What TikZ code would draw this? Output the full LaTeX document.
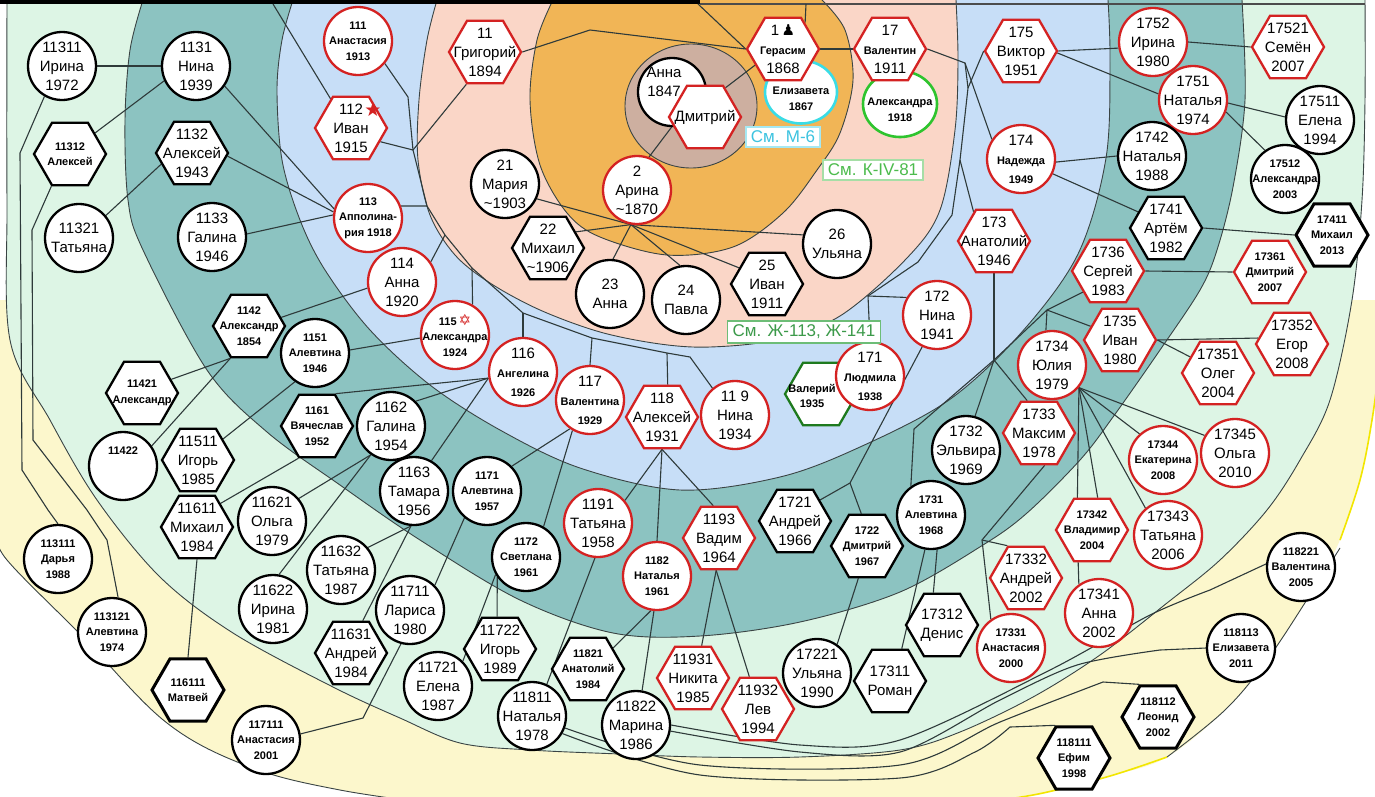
\documentclass[tikz,border=0pt]{standalone}
\usepackage{fontspec}
\setmainfont{Liberation Sans}
\newfontfamily\sym{DejaVu Sans}
\usetikzlibrary{shapes.geometric}
\pgfdeclarelayer{bg}
\pgfdeclarelayer{conn}
\pgfsetlayers{bg,conn,main}
\definecolor{yellowbg}{HTML}{FCF7CC}
\definecolor{greenbg}{HTML}{DDF5E5}
\definecolor{tealbg}{HTML}{8CC3C1}
\definecolor{bluebg}{HTML}{C7DEF7}
\definecolor{peachbg}{HTML}{FAD6C7}
\definecolor{orangebg}{HTML}{F1B556}
\definecolor{brownbg}{HTML}{CDAFA0}
\definecolor{redN}{HTML}{D42222}
\definecolor{cyanN}{HTML}{3ADCE6}
\definecolor{greenN}{HTML}{2EC42E}
\definecolor{dgreenN}{HTML}{1E7A1E}
\definecolor{lineC}{HTML}{2E3A3A}
\definecolor{bdC}{HTML}{3A4444}
\definecolor{lcyan}{HTML}{3CC3E0}
\definecolor{lcyanB}{HTML}{A6E8F2}
\definecolor{lgreen}{HTML}{4CBB4C}
\definecolor{lgreenB}{HTML}{A6DEA6}
\definecolor{lgreenC}{HTML}{3C9A4A}
\definecolor{lgreenCB}{HTML}{6DBD77}
\definecolor{yline}{HTML}{F2E600}
\newcommand\bigf{\fontsize{15}{19}\selectfont}
\newcommand\smf{\fontsize{11}{15.5}\selectfont\bfseries}
\newcommand\sn[1]{{\smf #1}}
\newcommand\pnode[5][tx]{\node[#3] (#2) at (#4) {};\node[#1] (#2t) at (#2) {#5};}
\begin{document}
\begin{tikzpicture}[x=1pt,y=-1pt,
  pc/.style={circle, fill=white, draw=black, line width=2.3pt, minimum size=68pt, inner sep=0pt},
  pcr/.style={pc, draw=redN},
  ph/.style={regular polygon, regular polygon sides=6, fill=white, draw=black, line width=2.3pt, minimum size=72pt, inner sep=0pt},
  phr/.style={ph, draw=redN},
  tx/.style={align=center, inner sep=0pt, font=\bigf},
  txs/.style={align=center, inner sep=0pt, font=\smf},
  ln/.style={draw=lineC, line width=1.1pt},
  bd/.style={draw=bdC, line width=0.9pt},
  lbl/.style={draw, fill=white, line width=1.3pt, inner xsep=5pt, inner ysep=4pt, font=\fontsize{17}{19}\selectfont}]
\useasboundingbox (0,0) rectangle (1375,796);

% ---------------- background regions
\begin{pgfonlayer}{bg}
\fill[white] (0,0) rectangle (1375,796);
\fill[yellowbg] (-10,300) -- (-10,530) -- plot[smooth,tension=.6] coordinates {(-2,535) (7,560) (83,637) (167,723) (250,767) (340,790) (450,806)} -- (950,806) -- plot[smooth,tension=.6] coordinates {(1043,793) (1110,776) (1167,757) (1225,710) (1267,660) (1310,595) (1340,540) (1360,480) (1372,420) (1385,330)} -- (1385,300) -- cycle;
\draw[bd] plot[smooth,tension=.6] coordinates {(-2,535) (7,560) (83,637) (167,723) (250,767) (340,790) (450,806)};
\draw[bd] plot[smooth,tension=.6] coordinates {(1167,757) (1225,710) (1267,660) (1310,595) (1340,548)};
\draw[yline, line width=1.6pt] plot[smooth,tension=.6] coordinates {(1000,800) (1043,793) (1110,776) (1167,757)};
\draw[yline, line width=1.6pt] plot[smooth,tension=.6] coordinates {(1340,540) (1360,480) (1372,420) (1380,360)};
\filldraw[fill=greenbg, bd] (7,-10) -- plot[smooth,tension=.55] coordinates {(7,0) (7,200) (10,340) (50,420) (97,500) (160,577) (233,633) (333,687) (400,718) (460,743) (530,750) (620,754) (700,757) (800,757) (900,750) (960,732) (1033,697) (1100,655) (1167,603) (1220,560) (1267,510) (1300,460) (1330,400) (1352,300) (1362,200) (1365,100) (1365,0)} -- (1365,-10) -- cycle;
\filldraw[fill=tealbg, bd] (143,-10) -- plot[smooth,tension=.55] coordinates {(143,0) (130,50) (125,120) (128,200) (143,250) (207,370) (267,432) (340,485) (420,540) (520,600) (613,633) (700,636) (800,622) (900,592) (983,545) (1027,513) (1080,460) (1113,417) (1160,350) (1200,290) (1217,250) (1233,187) (1245,100) (1242,0)} -- (1242,-10) -- cycle;
\filldraw[fill=bluebg, bd] (293,-10) -- plot[smooth,tension=.55] coordinates {(293,0) (282,40) (277,90) (282,160) (300,220) (325,270) (370,330) (430,385) (500,430) (580,468) (680,490) (780,477) (860,447) (949,400) (1021,333) (1078,254) (1106,158) (1110,60) (1108,0)} -- (1108,-10) -- cycle;
\filldraw[fill=peachbg, bd] (437,-10) -- plot[smooth,tension=.55] coordinates {(437,0) (427,40) (419,100) (418,160) (430,215) (455,255) (490,283) (540,310) (600,332) (660,344) (710,347) (775,340) (840,316) (907,258) (940,210) (955,130) (958,60) (956,0)} -- (956,-10) -- cycle;
\filldraw[fill=orangebg, bd] (553,-10) -- plot[smooth,tension=.55] coordinates {(553,0) (537,40) (530,100) (540,165) (567,213) (600,237) (667,255) (733,247) (783,213) (817,170) (840,133) (853,80) (845,30) (822,0)} -- (822,-10) -- cycle;
\filldraw[fill=brownbg, bd] (691,106) ellipse [x radius=66pt, y radius=62pt];
\draw[black, line width=4pt] (0,2) -- (700,2);
\draw[black!70, line width=1.5pt] (700,4) -- (1365,4);
\end{pgfonlayer}

% ---------------- nodes
\pnode{anna0}{pc}{672,92}{}
\node[tx] (anna0x) at (664,82) {Анна\\1847};
\pnode{dmi}{phr}{705,117}{Дмитрий}
\node[ellipse, fill=white, draw=cyanN, line width=2.6pt, minimum width=72pt, minimum height=63pt, inner sep=0pt] (eliz) at (801,92) {};
\node[txs] (elizt) at (801,99) {Елизавета\\1867};
\pnode{ger}{phr}{783,49}{1\,{\sym ♟}\\\sn{Герасим}\\1868}
\node[ellipse, fill=white, draw=greenN, line width=2.6pt, minimum width=74pt, minimum height=66pt, inner sep=0pt] (alex18) at (900,104) {};
\node[txs] (alex18t) at (900,110) {Александра\\1918};
\pnode{val}{phr}{890,49}{17\\\sn{Валентин}\\1911}
\pnode{grig}{phr}{485,52}{11\\Григорий\\1894}
\pnode{arina}{pcr}{637,190}{2\\Арина\\\textasciitilde1870}
\pnode{m21}{pc}{505,184}{21\\Мария\\\textasciitilde1903}
\pnode{m22}{ph}{548,248}{22\\Михаил\\\textasciitilde1906}
\pnode{m23}{pc}{610,294}{23\\Анна}
\pnode{m24}{pc}{686,300}{24\\Павла}
\pnode{m25}{ph}{767,284}{25\\Иван\\1911}
\pnode{m26}{pc}{837,244}{26\\Ульяна}

\pnode[txs]{n111}{pcr}{358,41}{111\\Анастасия\\1913}
\pnode{n112}{phr}{351,128}{112\hspace{20pt}\\Иван\\1915}
\node[text=redN, font=\sym\fontsize{19}{19}\selectfont, inner sep=0pt] (star112) at (373,110) {★};
\pnode[txs]{n113}{pcr}{368,218}{113\\Апполина-\\рия 1918}
\pnode{n114}{pcr}{402,282}{114\\Анна\\1920}
\pnode[txs]{n115}{pcr}{455,335}{115\,{\sym\fontsize{15}{15}\selectfont\color{redN}✡}\\Александра\\1924}
\pnode{n116}{pcr}{523,372}{116\\\sn{Ангелина}\\\sn{1926}}
\pnode{n117}{pcr}{590,400}{117\\\sn{Валентина}\\\sn{1929}}
\pnode{n118}{phr}{662,417}{118\\Алексей\\1931}
\pnode{n119}{pcr}{735,415}{11 9\\Нина\\1934}
\node[ph, draw=dgreenN] (val35) at (821,394) {};
\pnode{n171}{pcr}{870,376}{171\\\sn{Людмила}\\\sn{1938}}
\node[txs] (val35t) at (812,396) {Валерий\\1935};
\pnode{n172}{pcr}{937,315}{172\\Нина\\1941}
\pnode{n173}{phr}{994,241}{173\\Анатолий\\1946}
\pnode{n174}{pcr}{1021,159}{174\\\sn{Надежда}\\\sn{1949}}
\pnode{n175}{phr}{1021,51}{175\\Виктор\\1951}

\pnode{n1131}{pc}{196,66}{1131\\Нина\\1939}
\pnode{n1132}{ph}{192,153}{1132\\Алексей\\1943}
\pnode{n1133}{pc}{212,237}{1133\\Галина\\1946}
\pnode[txs]{n1142}{ph}{249,326}{1142\\Александр\\1854}
\pnode[txs]{n1151}{pc}{315,353}{1151\\Алевтина\\1946}
\pnode[txs]{n1161}{ph}{317,426}{1161\\Вячеслав\\1952}
\pnode{n1162}{pc}{391,426}{1162\\Галина\\1954}
\pnode{n1163}{pc}{414,491}{1163\\Тамара\\1956}
\pnode[txs]{n1171}{pc}{487,491}{1171\\Алевтина\\1957}
\pnode[txs]{n1172}{pc}{526,557}{1172\\Светлана\\1961}
\pnode{n1191}{pcr}{598,523}{1191\\Татьяна\\1958}
\pnode[txs]{n1182}{pcr}{657,576}{1182\\Наталья\\1961}
\pnode{n1193}{phr}{719,538}{1193\\Вадим\\1964}
\pnode{n1721}{ph}{795,521}{1721\\Андрей\\1966}
\pnode[txs]{n1722}{ph}{867,546}{1722\\Дмитрий\\1967}
\pnode[txs]{n1731}{pc}{931,515}{1731\\Алевтина\\1968}
\pnode{n1732}{pc}{966,450}{1732\\Эльвира\\1969}
\pnode{n1733}{phr}{1039,433}{1733\\Максим\\1978}
\pnode{n1734}{pcr}{1052,365}{1734\\Юлия\\1979}
\pnode{n1735}{phr}{1120,340}{1735\\Иван\\1980}
\pnode{n1736}{phr}{1108,271}{1736\\Сергей\\1983}
\pnode{n1741}{ph}{1166,228}{1741\\Артём\\1982}
\pnode{n1752}{pcr}{1153,42}{1752\\Ирина\\1980}
\pnode{n1751}{pcr}{1193,100}{1751\\Наталья\\1974}
\pnode{n1742}{pc}{1152,156}{1742\\Наталья\\1988}

\pnode{n11311}{pc}{62,66}{11311\\Ирина\\1972}
\pnode[txs]{n11312}{ph}{70,154}{11312\\Алексей}
\pnode{n11321}{pc}{79,238}{11321\\Татьяна}
\pnode[txs]{n11421}{ph}{142,393}{11421\\Александр}
\node[pc] (n11422) at (123,466) {};
\node[txs] (n11422t) at ([yshift=15pt]n11422.center) {11422};
\pnode{n11511}{ph}{198,460}{11511\\Игорь\\1985}
\pnode{n11611}{ph}{197,527}{11611\\Михаил\\1984}
\pnode{n11621}{pc}{272,521}{11621\\Ольга\\1979}
\pnode{n11622}{pc}{273,609}{11622\\Ирина\\1981}
\pnode{n11632}{pc}{341,570}{11632\\Татьяна\\1987}
\pnode{n11631}{ph}{351,653}{11631\\Андрей\\1984}
\pnode{n11711}{pc}{410,610}{11711\\Лариса\\1980}
\pnode{n11721}{pc}{438,686}{11721\\Елена\\1987}
\pnode{n11722}{ph}{500,649}{11722\\Игорь\\1989}
\pnode{n11811}{pc}{532,716}{11811\\Наталья\\1978}
\pnode[txs]{n11821}{ph}{588,669}{11821\\Анатолий\\1984}
\pnode{n11822}{pc}{636,725}{11822\\Марина\\1986}
\pnode{n11931}{phr}{693,678}{11931\\Никита\\1985}
\pnode{n11932}{phr}{758,709}{11932\\Лев\\1994}
\pnode{n17221}{pc}{817,673}{17221\\Ульяна\\1990}
\pnode{n17311}{ph}{890,681}{17311\\Роман}
\pnode{n17312}{ph}{942,625}{17312\\Денис}
\pnode[txs]{n17331}{pcr}{1011,648}{17331\\Анастасия\\2000}
\pnode{n17332}{phr}{1026,578}{17332\\Андрей\\2002}
\pnode{n17341}{pcr}{1099,613}{17341\\Анна\\2002}
\pnode[txs]{n17342}{phr}{1092,530}{17342\\Владимир\\2004}
\pnode{n17343}{pcr}{1168,535}{17343\\Татьяна\\2006}
\pnode[txs]{n17344}{pcr}{1163,460}{17344\\Екатерина\\2008}
\pnode{n17345}{pcr}{1235,453}{17345\\Ольга\\2010}
\pnode{n17351}{phr}{1218,373}{17351\\Олег\\2004}
\pnode{n17352}{phr}{1292,344}{17352\\Егор\\2008}
\pnode[txs]{n17361}{phr}{1270,272}{17361\\Дмитрий\\2007}
\pnode[txs]{n17411}{ph, line width=3pt}{1332,235}{17411\\Михаил\\2013}
\pnode{n17511}{pc}{1320,120}{17511\\Елена\\1994}
\pnode[txs]{n17512}{pc}{1285,179}{17512\\Александра\\2003}
\pnode{n17521}{phr}{1288,47}{17521\\Семён\\2007}

\pnode[txs]{n113111}{pc}{58,559}{113111\\Дарья\\1988}
\pnode[txs]{n113121}{pc}{112,632}{113121\\Алевтина\\1974}
\pnode[txs]{n116111}{ph, line width=3pt}{188,690}{116111\\Матвей}
\pnode[txs]{n117111}{pc}{266,740}{117111\\Анастасия\\2001}
\pnode[txs]{n118111}{ph, line width=3pt}{1074,758}{118111\\Ефим\\1998}
\pnode[txs]{n118112}{ph, line width=3pt}{1158,717}{118112\\Леонид\\2002}
\pnode[txs]{n118113}{pc}{1241,648}{118113\\Елизавета\\2011}
\pnode[txs]{n118221}{pc}{1301,567}{118221\\Валентина\\2005}

\node[lbl, draw=lcyanB, text=lcyan] (lm6) at (783,137) {См. М-6};
\node[lbl, draw=lgreenB, text=lgreen] (lk4) at (873,170) {См. К-IV-81};
\node[lbl, draw=lgreenCB, text=lgreenC] (lzh) at (804,332) {См. Ж-113, Ж-141};

% ---------------- junction coordinates
\coordinate (topA) at (698,4);
\coordinate (topG) at (806,4);
\coordinate (gA) at (590,30);
\coordinate (t112) at (273,4);
\coordinate (jA) at (413,150);
\coordinate (j111) at (408,97);
\coordinate (b1) at (427,206);
\coordinate (b2) at (445,235);
\coordinate (b3) at (472,268);
\coordinate (b4) at (523,313);
\coordinate (b5) at (592,338);
\coordinate (b6) at (667,353);
\coordinate (b7) at (690,357);
\coordinate (jB) at (965,63);
\coordinate (jC) at (968,88);
\coordinate (jD) at (960,160);
\coordinate (jE) at (952,215);
\coordinate (jF) at (918,262);
\coordinate (jG) at (868,296);
\coordinate (hC) at (994,360);
\coordinate (jH) at (914,429);
\coordinate (jY) at (1047,310);
\coordinate (jZ) at (1077,525);
\coordinate (jQ) at (982,540);
\coordinate (jN) at (850,483);
\coordinate (L1) at (20,153);
\coordinate (L2) at (22,470);
\coordinate (L3) at (48,510);
\coordinate (M1) at (32,230);
\coordinate (M2) at (33,440);
\coordinate (M3) at (87,510);
\coordinate (M4) at (107,540);
\coordinate (J117) at (363,718);

% ---------------- connectors
\begin{pgfonlayer}{conn}
\draw[ln] (topA) -- (ger.180);
\draw[ln] (topG) -- (ger.50);
\draw[ln] (grig.east) -- (gA) -- (ger.180);
\draw[ln] (ger.east) -- (val.west);
\draw[ln] (ger.-150) -- (dmi.55);
\draw[ln] (dmi.-165) -- (arina.70);
\foreach \tg in {m21.-25,m22.30,m23.85,m24.100,m25.150,m26.165} \draw[ln] (arina.-100) -- (\tg);
% Grigoriy bus
\draw[ln] (grig.-120) -- (jA) -- (b1) -- (b2) -- (b3) -- (b4) -- (b5) -- (b6) -- (b7) -- (n119.130);
\draw[ln] (n111.-40) -- (j111) -- (jA);
\draw[ln] (n112.-25) -- (jA);
\draw[ln] (t112) -- (n112.125);
\draw[ln] (n113.20) -- (b1);
\draw[ln] (b2) -- (n114.35);
\draw[ln] (b3) -- (n115.60);
\draw[ln] (b4) -- (n116.north);
\draw[ln] (b5) -- (n117.north);
\draw[ln] (b6) -- (n118.80);
% Valentin bus
\draw[ln] (val.east) -- (jB) -- (n174.146);
\draw[ln] (jB) -- (jC);
\draw[ln] (n175.west) -- (jC) -- (jD) -- (n173.125);
\draw[ln] (jD) -- (jE) -- (jF) -- (jG) -- (n171.north);
\draw[ln] (jG) -- (n172.150);
% 173
\draw[ln] (n173.south) -- (hC);
\draw[ln] (hC) -- (n1733.110);
\draw[ln] (hC) -- (n1732.75);
\draw[ln] (hC) -- (jH) -- (n1731.125);
\draw[ln] (hC) -- (jY) -- (n1734.100);
\draw[ln] (jY) -- (n1736.-140);
\draw[ln] (jY) -- (n1735.155);
\foreach \tg in {n17345.150,n17344.132,n17343.130,n17342.80} \draw[ln] (n1734.-40) -- (\tg);
\draw[ln] (n1734.-40) -- (jZ) -- (n17341.125);
\draw[ln] (n1733.-80) -- (jQ) -- (n17331.125);
\draw[ln] (jQ) -- (n17332.120);
\draw[ln] (n1731.-100) -- (n17311.70);
\draw[ln] (n1731.-80) -- (n17312.105);
% 172
\draw[ln] (n172.-115) -- (jN) -- (n1721.40);
\draw[ln] (jN) -- (n1722.100);
\draw[ln] (n1722.-105) -- (n17221.55);
% 174, 175
\draw[ln] (n174.-5) -- (n1742.west);
\draw[ln] (n174.-25) -- (n1741.150);
\draw[ln] (n1741.east) -- (n17411.west);
\draw[ln] (n175.east) -- (n1752.-170);
\draw[ln] (n175.-3) -- (n1751.170);
\draw[ln] (n1752.east) -- (n17521.west);
\draw[ln] (n1751.-5) -- (n17511.175);
\draw[ln] (n1751.-20) -- (n17512.125);
\draw[ln] (n1736.east) -- (n17361.west);
\draw[ln] (n1735.east) -- (n17352.170);
\draw[ln] (n1735.east) -- (n17351.150);
% left side
\draw[ln] (n1131.-35) -- (n113.165);
\draw[ln] (n1132.-5) -- (n113.170);
\draw[ln] (n1133.5) -- (n113.175);
\draw[ln] (n11311.east) -- (n1131.180);
\draw[ln] (n11312.40) -- (n1131.205);
\draw[ln] (n11321.40) -- (n1132.200);
\draw[ln] (n11311.-120) -- (L1) -- (L2) -- (L3) -- (n113111.north);
\draw[ln] (n11312.-120) -- (M1) -- (M2) -- (M3) -- (M4) -- (n113121.80);
\draw[ln] (n114.190) -- (n1142.15);
\draw[ln] (n1142.-120) -- (n11421.25);
\draw[ln] (n1142.-120) -- (n11422.35);
\draw[ln] (n115.185) -- (n1151.5);
\draw[ln] (n1151.-125) -- (n11511.40);
\foreach \tg in {n1161.60,n1162.45,n1163.60} \draw[ln] (n116.190) -- (\tg);
\draw[ln] (n1161.-120) -- (n11611.45);
\draw[ln] (n1162.-125) -- (n11621.40);
\draw[ln] (n1162.-125) -- (n11622.80);
\draw[ln] (n1163.-95) -- (n11632.40);
\draw[ln] (n1163.-95) -- (n11631.70);
\draw[ln] (n117.-125) -- (n1171.45);
\draw[ln] (n117.-120) -- (n1172.60);
\draw[ln] (n1171.-130) -- (n11711.45);
\draw[ln] (n11711.-105) -- (J117) -- (n117111.10);
\draw[ln] (n1172.-145) -- (n11722.95);
\draw[ln] (n1172.-150) -- (n11721.45);
\draw[ln] (n118.south) -- (n1191.40);
\draw[ln] (n118.south) -- (n1182.north);
\draw[ln] (n118.south) -- (n1193.100);
\draw[ln] (n1191.-95) -- (n11811.65);
\draw[ln] (n1182.-100) -- (n11821.40);
\draw[ln] (n1182.-95) -- (n11822.80);
\draw[ln] (n1193.-95) -- (n11931.75);
\draw[ln] (n1193.-95) -- (n11932.105);
\draw[ln] (n11611.south) -- (n116111.north);
% long bottom lines
\draw[ln] plot[smooth,tension=.5] coordinates {(n11811.-30) (700,775) (900,778) (975,752) (1010,727)} -- (n118111.120);
\draw[ln] plot[smooth,tension=.5] coordinates {(n11811.-20) (700,765) (900,765) (1000,722) (1103,682)} -- (n118112.120);
\draw[ln] plot[smooth,tension=.5] coordinates {(n11822.-10) (800,752) (900,752) (1000,700) (1077,665) (1160,650)} -- (n118113.180);
\draw[ln] plot[smooth,tension=.5] coordinates {(n11822.0) (800,745) (900,740) (1050,670) (1150,615) (1210,590)} -- (n118221.175);
\end{pgfonlayer}
\end{tikzpicture}
\end{document}
